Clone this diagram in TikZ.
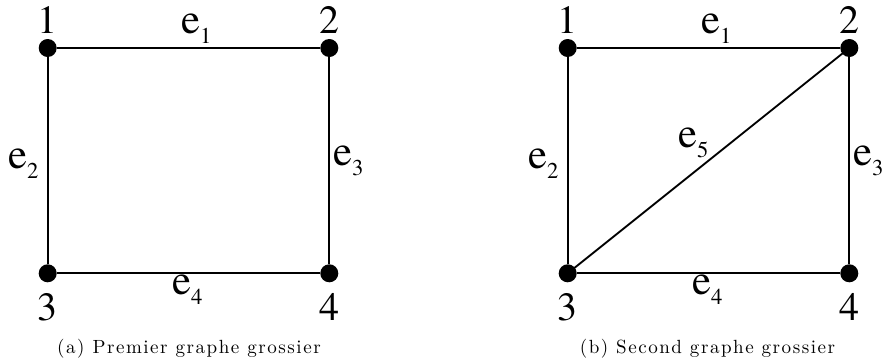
\documentclass[tikz,border=0pt]{standalone}
\usepackage{fontspec}
\setmainfont{texgyretermes-regular.otf}
\newfontfamily\capfont{lmroman10-regular}[Extension=.otf,LetterSpace=8]
\usepackage{tikz}
\newcommand{\edgelab}[1]{e\raisebox{-8pt}{\fontsize{17pt}{17pt}\selectfont #1}}
\tikzset{
  graphline/.style={line width=1.4pt,draw=black},
  vertex/.style={circle,fill=black,inner sep=0pt,minimum size=13.5pt},
  vlabel/.style={anchor=base,inner sep=0pt,font={\rmfamily\fontsize{30pt}{30pt}\selectfont}},
  elabel/.style={anchor=base west,inner sep=0pt,font={\rmfamily\fontsize{32pt}{32pt}\selectfont}},
  caption/.style={anchor=base,inner sep=0pt,font={\capfont\fontsize{14.3pt}{16pt}\selectfont}},
}

\begin{document}
\begin{tikzpicture}[x=0.75pt,y=-0.75pt]
  \useasboundingbox (0,0) rectangle (886,364);

  \node[vertex] (a1) at (47.7,48) {};
  \node[vertex] (a2) at (329.3,48) {};
  \node[vertex] (a3) at (47.7,273.3) {};
  \node[vertex] (a4) at (329.3,273.3) {};
  \draw[graphline] (a1) -- (a2) -- (a4) -- (a3) -- (a1);

  \node[vlabel] (la1) at (47,33) {1};
  \node[vlabel] (la2) at (329,33) {2};
  \node[vlabel] (la3) at (47,320.7) {3};
  \node[vlabel] (la4) at (329.5,320.7) {4};

  \node[elabel] (ea1) at (181,33) {\edgelab{1}};
  \node[elabel] (ea2) at (8,168) {\edgelab{2}};
  \node[elabel] (ea3) at (333,165) {\edgelab{3}};
  \node[elabel] (ea4) at (172,294) {\edgelab{4}};

  \node[caption] (capa) at (189,353) {(a) Premier graphe grossier};

  \node[vertex] (b1) at (567.7,48) {};
  \node[vertex] (b2) at (849.3,48) {};
  \node[vertex] (b3) at (567.7,273.3) {};
  \node[vertex] (b4) at (849.3,273.3) {};
  \draw[graphline] (b1) -- (b2) -- (b4) -- (b3) -- (b1);
  \draw[graphline] (b3.center) -- (b2.center);

  \node[vlabel] (lb1) at (567,33) {1};
  \node[vlabel] (lb2) at (849,33) {2};
  \node[vlabel] (lb3) at (567,320.7) {3};
  \node[vlabel] (lb4) at (849.5,320.7) {4};

  \node[elabel] (eb1) at (701,33) {\edgelab{1}};
  \node[elabel] (eb2) at (528,168) {\edgelab{2}};
  \node[elabel] (eb3) at (853,165) {\edgelab{3}};
  \node[elabel] (eb4) at (692,294) {\edgelab{4}};
  \node[elabel] (eb5) at (678,147) {\edgelab{5}};

  \node[caption] (capb) at (707.5,353) {(b) Second graphe grossier};
\end{tikzpicture}
\end{document}
